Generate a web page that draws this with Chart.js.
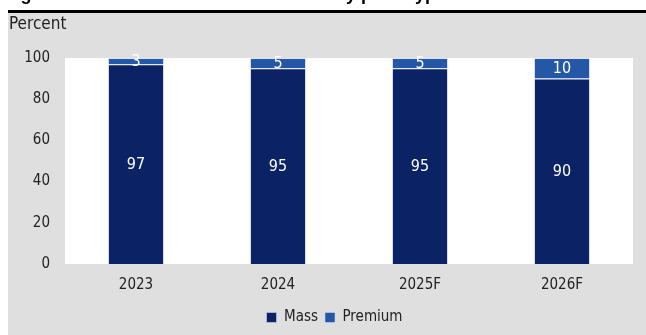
<!DOCTYPE html>
<html>
<head>
<meta charset="utf-8">
<script src="https://cdn.jsdelivr.net/npm/chart.js@4.4.1/dist/chart.umd.min.js"></script>
<style>
  html, body { margin: 0; padding: 0; background: #ffffff; }
  #wrap { position: absolute; left: 0; top: 0; width: 646px; height: 335px; }
</style>
</head>
<body>
<div id="wrap"><canvas id="c" width="646" height="335"></canvas></div>
<script>
const categories = ['2023', '2024', '2025F', '2026F'];
const massValues = [97, 95, 95, 90];
const premiumValues = [3, 5, 5, 10];
const yTicks = [0, 20, 40, 60, 80, 100];
const seriesNames = ['Mass', 'Premium'];
const titlePrefix = "Figure 4: China's mobile market share ";
const titleSuffix = 'by price type';
const unitLabel = 'Percent';

const FONT = "'DejaVu Sans Condensed', 'Liberation Sans Narrow', Arial, sans-serif";

const framePlugin = {
  id: 'frame',
  afterLayout(chart) {
    const lg = chart.legend;
    if (lg) { lg.left += 14; lg.right += 14; }
  },
  beforeDraw(chart) {
    const ctx = chart.ctx;
    const a = chart.chartArea;
    ctx.save();
    ctx.fillStyle = '#ffffff';
    ctx.fillRect(0, 0, chart.width, chart.height);
    ctx.fillStyle = '#dfdfdf';
    ctx.fillRect(8, 13, chart.width - 8, chart.height - 13);
    ctx.fillStyle = '#000000';
    ctx.fillRect(8, 10, chart.width - 8, 3);
    ctx.fillStyle = '#ffffff';
    ctx.fillRect(a.left, a.top, a.right - a.left, a.bottom - a.top);
    // cut-off title (only descenders visible)
    ctx.font = "bold 18px 'Liberation Sans', Arial, sans-serif";
    ctx.fillStyle = '#000000';
    ctx.textBaseline = 'alphabetic';
    ctx.textAlign = 'left';
    const full = titlePrefix + titleSuffix;
    const pw = ctx.measureText(titlePrefix).width;
    ctx.fillText(full, 335 - pw, 0);
    // unit label
    ctx.font = "17px " + FONT;
    ctx.fillStyle = '#222222';
    ctx.textBaseline = 'middle';
    ctx.fillText(unitLabel, 9, 25);
    ctx.restore();
  }
};

const labelPlugin = {
  id: 'segLabels',
  afterDatasetsDraw(chart) {
    const ctx = chart.ctx;
    ctx.save();
    ctx.font = "16px " + FONT;
    ctx.fillStyle = '#ffffff';
    ctx.textAlign = 'center';
    ctx.textBaseline = 'middle';
    chart.data.datasets.forEach((ds, di) => {
      const meta = chart.getDatasetMeta(di);
      meta.data.forEach((bar, i) => {
        const v = ds.data[i];
        const p = bar.getProps(['x', 'y', 'base'], true);
        ctx.fillText(String(v), p.x, (p.y + p.base) / 2 + 1);
      });
    });
    ctx.restore();
  }
};

new Chart(document.getElementById('c'), {
  type: 'bar',
  data: {
    labels: categories,
    datasets: [
      { label: seriesNames[0], data: massValues, backgroundColor: '#0b2265',
        borderColor: 'rgba(200,210,235,0.6)', borderWidth: 1, barPercentage: 0.395, categoryPercentage: 1 },
      { label: seriesNames[1], data: premiumValues, backgroundColor: '#2457a5',
        borderColor: 'rgba(200,210,235,0.6)', borderWidth: 1, barPercentage: 0.395, categoryPercentage: 1 }
    ]
  },
  options: {
    responsive: false,
    animation: false,
    devicePixelRatio: 1,
    layout: { padding: { left: 8, right: 13, top: 58, bottom: 0 } },
    plugins: {
      legend: {
        position: 'bottom',
        labels: {
          font: { family: FONT, size: 15 },
          color: '#222222',
          boxWidth: 10,
          boxHeight: 10,
          padding: 7
        }
      },
      tooltip: { enabled: false },
      title: { display: false }
    },
    scales: {
      x: {
        stacked: true,
        grid: { display: false, drawTicks: false },
        border: { display: false },
        ticks: { font: { family: FONT, size: 15 }, color: '#222222', padding: 12 },
        afterFit(scale) { scale.height = 39; }
      },
      y: {
        stacked: true,
        min: 0,
        max: 100,
        grid: { display: false, drawTicks: false },
        border: { display: false },
        afterBuildTicks(scale) { scale.ticks = yTicks.map(v => ({ value: v })); },
        ticks: { font: { family: FONT, size: 15 }, color: '#222222', padding: 15 },
        afterFit(scale) { scale.width = 57; }
      }
    }
  },
  plugins: [framePlugin, labelPlugin]
});
</script>
</body>
</html>
